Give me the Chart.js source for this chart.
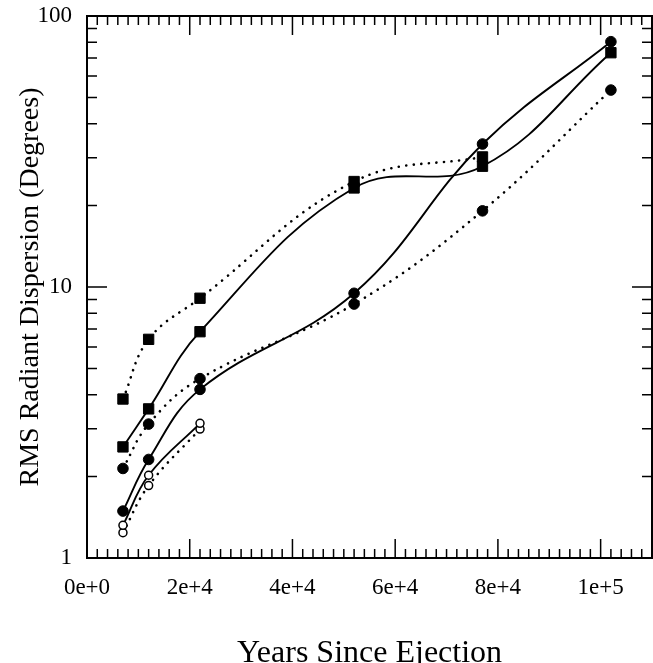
<!DOCTYPE html>
<html>
<head>
<meta charset="utf-8">
<script src="https://cdn.jsdelivr.net/npm/chart.js@4.4.1/dist/chart.umd.min.js"></script>
<style>
  html, body { margin: 0; padding: 0; background: #fff; overflow: hidden; }
  canvas { display: block; }
</style>
</head>
<body>
<canvas id="dispChart" width="653" height="663"></canvas>
<script>
/* data */
const years = [7000, 12000, 22000, 52000, 77000, 102000];
const squaresSolid = [2.57, 3.55, 6.84, 23.2, 27.9, 73.2];
const squaresDotted = [3.86, 6.41, 9.09, 24.5, 30.2];
const circlesSolid = [1.49, 2.31, 4.19, 9.48, 33.7, 80.4];
const circlesDotted = [2.14, 3.12, 4.59, 8.65, 19.1, 53.3];
const openSolid = [1.32, 2.02, 3.14];
const openDotted = [1.24, 1.85, 2.99];
const xTickValues = [0, 20000, 40000, 60000, 80000, 100000];
const xTickLabels = ['0e+0', '2e+4', '4e+4', '6e+4', '8e+4', '1e+5'];
const yTickValues = [1, 10, 100];
const yTickLabels = ['1', '10', '100'];

const serif = '"Liberation Serif", "DejaVu Serif", serif';

function pts(vals) {
    return vals.map((v, i) => ({ x: years[i], y: v }))
}

function series(vals, style, dotted, open) {
    return {
        data: pts(vals),
        borderColor: '#000',
        backgroundColor: open ? '#fff' : '#000',
        borderWidth: dotted ? 2.6 : 1.9,
        borderDash: dotted ? [0.1, 7.5] : [],
        borderCapStyle: 'round',
        tension: 0.4,
        pointStyle: style,
        pointRadius: style === 'rect' ? 7.3 : (open ? 4 : 5.3),
        pointBorderWidth: open ? 1.5 : 1,
        pointBorderColor: '#000',
        pointBackgroundColor: open ? '#fff' : '#000',
        fill: false
    }
}

/* frame + inward ticks on all four sides */
const framePlugin = {
    id: 'frame',
    afterDatasetsDraw(chart) {
        const { ctx, chartArea: a, scales: { x, y } } = chart;
        ctx.save();
        ctx.strokeStyle = '#000';
        ctx.lineWidth = 2;
        ctx.strokeRect(a.left, a.top, a.right - a.left, a.bottom - a.top);
        ctx.lineWidth = 1.5;
        ctx.beginPath();
        for (let v = 0; v <= 110000; v += 2000) {
            const px = x.getPixelForValue(v);
            const len = v % 20000 === 0 ? 19 : 9;
            ctx.moveTo(px, a.bottom); ctx.lineTo(px, a.bottom - len);
            ctx.moveTo(px, a.top); ctx.lineTo(px, a.top + len);
        }
        for (let d = 1; d <= 10; d *= 10) {
            for (let m = 1; m <= 10; m++) {
                const py = y.getPixelForValue(d * m);
                const len = m === 1 || m === 10 ? 20 : 10;
                ctx.moveTo(a.left, py); ctx.lineTo(a.left + len, py);
                ctx.moveTo(a.right, py); ctx.lineTo(a.right - len, py);
            }
        }
        ctx.stroke();
        ctx.restore();
    }
}

const dispChart = new Chart(document.getElementById('dispChart').getContext('2d'), {
    type: 'line',
    data: {
        datasets: [
            series(squaresSolid, 'rect', false, false),
            series(squaresDotted, 'rect', true, false),
            series(circlesSolid, 'circle', false, false),
            series(circlesDotted, 'circle', true, false),
            series(openSolid, 'circle', false, true),
            series(openDotted, 'circle', true, true)
        ]
    },
    options: {
        responsive: false,
        animation: false,
        layout: { autoPadding: false, padding: { top: 16, right: 1, left: 0, bottom: 0 } },
        plugins: {
            legend: { display: false },
            tooltip: { enabled: false }
        },
        scales: {
            x: {
                type: 'linear',
                min: 0,
                max: 110000,
                afterFit: (s) => {
                    s.height = 105
                    s.paddingLeft = 0
                    s.paddingRight = 0
                },
                afterBuildTicks: (s) => { s.ticks = xTickValues.map(v => ({ value: v })) },
                grid: { display: false, drawTicks: false },
                border: { display: false },
                ticks: {
                    padding: 16,
                    color: '#000',
                    font: { family: serif, size: 23 },
                    maxRotation: 0,
                    callback: (v) => xTickLabels[xTickValues.indexOf(v)]
                },
                title: {
                    display: true,
                    text: 'Years Since Ejection',
                    color: '#000',
                    font: { family: serif, size: 32, lineHeight: 0.6 },
                    padding: { top: 0, bottom: 0 }
                }
            },
            y: {
                type: 'logarithmic',
                min: 1,
                max: 100,
                afterFit: (s) => {
                    s.width = 87
                    s.paddingTop = 0
                    s.paddingBottom = 0
                },
                afterBuildTicks: (s) => { s.ticks = yTickValues.map(v => ({ value: v })) },
                grid: { display: false, drawTicks: false },
                border: { display: false },
                ticks: {
                    padding: 15,
                    color: '#000',
                    font: { family: serif, size: 23 },
                    callback: (v) => yTickLabels[yTickValues.indexOf(v)]
                },
                title: {
                    display: true,
                    text: 'RMS Radiant Dispersion (Degrees)',
                    color: '#000',
                    font: { family: serif, size: 28 },
                    padding: { top: 14, bottom: 0 }
                }
            }
        }
    },
    plugins: [framePlugin]
})
</script>
</body>
</html>
